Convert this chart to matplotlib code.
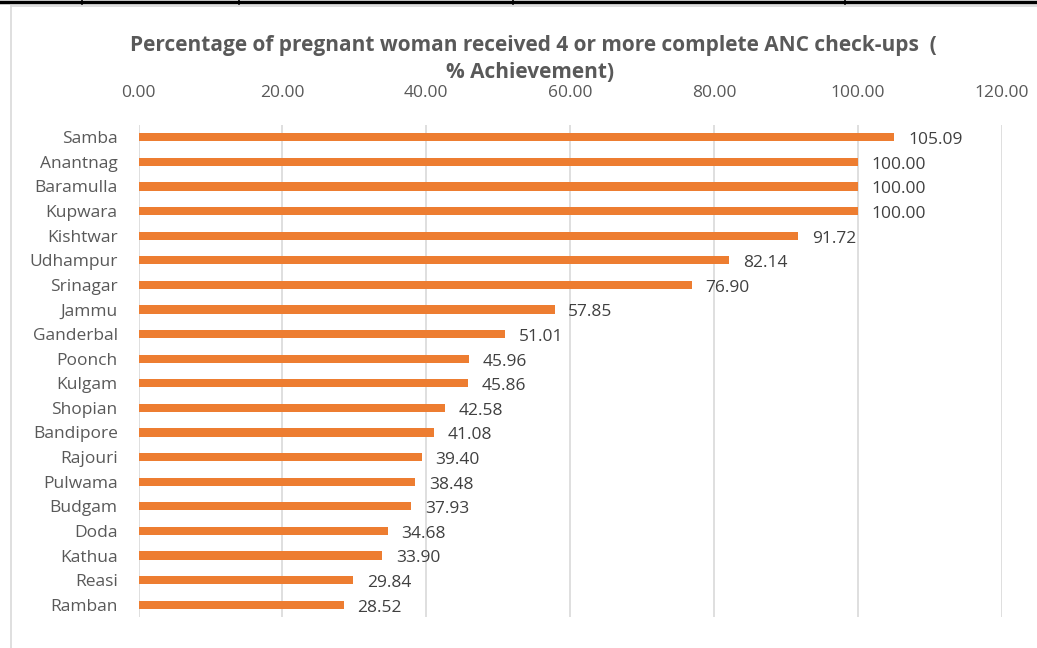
import numpy as np
import matplotlib.pyplot as plt
from matplotlib.lines import Line2D

districts = ['Samba', 'Anantnag', 'Baramulla', 'Kupwara', 'Kishtwar', 'Udhampur',
             'Srinagar', 'Jammu', 'Ganderbal', 'Poonch', 'Kulgam', 'Shopian',
             'Bandipore', 'Rajouri', 'Pulwama', 'Budgam', 'Doda', 'Kathua',
             'Reasi', 'Ramban']
achievement = [105.09, 100.00, 100.00, 100.00, 91.72, 82.14, 76.90, 57.85, 51.01,
               45.96, 45.86, 42.58, 41.08, 39.40, 38.48, 37.93, 34.68, 33.90,
               29.84, 28.52]
xticks = [0, 20, 40, 60, 80, 100, 120]

plt.rcParams['font.family'] = ['Open Sans', 'DejaVu Sans']

fig = plt.figure(figsize=(10.37, 6.48), dpi=100)
W, H = 1037, 648
# plot area in pixels: x 138.5..1001.7, y 125..617
ax = fig.add_axes([138.5 / W, 1 - 617 / H, (1001.7 - 138.5) / W, (617 - 125) / H])

y = np.arange(len(districts))
ax.barh(y, achievement, height=0.33, color='#ED7D31', zorder=3)
ax.set_ylim(len(districts) - 0.5, -0.5)
ax.set_xlim(0, 120)
ax.set_yticks(y)
ax.set_yticklabels(districts, fontsize=12.5, color='#595959')
ax.set_xticks(xticks)
ax.set_xticklabels([f'{v:.2f}' for v in xticks], fontsize=12.5, color='#595959')
ax.xaxis.tick_top()
ax.tick_params(axis='x', length=0, pad=17)
ax.tick_params(axis='y', length=0, pad=15)
ax.grid(axis='x', color='#D9D9D9', linewidth=1.2, zorder=0)
for s in ax.spines.values():
    s.set_visible(False)

for yi, v in zip(y, achievement):
    ax.text(v + 1.9, yi + 0.12, f'{v:.2f}', va='center', ha='left',
            fontsize=12.5, color='#404040')

fig.text(533 / W, 1 - 45 / H, 'Percentage of pregnant woman received 4 or more complete ANC check-ups  (',
         ha='center', va='center', fontsize=15, fontweight='bold', color='#595959')
fig.text(530 / W, 1 - 72 / H, '% Achievement)',
         ha='center', va='center', fontsize=15, fontweight='bold', color='#595959')

# chart frame and table borders around the image
fig.add_artist(Line2D([10.5 / W, 10.5 / W], [0, 1 - 6 / H], color='#D9D9D9', linewidth=1.2))
fig.add_artist(Line2D([10.5 / W, 1], [1 - 6 / H, 1 - 6 / H], color='#D9D9D9', linewidth=1.2))
fig.add_artist(Line2D([0, 1], [1 - 1.5 / H, 1 - 1.5 / H], color='black', linewidth=2.5))
for xp in [82, 239, 513, 845]:
    fig.add_artist(Line2D([xp / W, xp / W], [1 - 4 / H, 1], color='black', linewidth=1.2))

fig.savefig('out.png', dpi=100)
